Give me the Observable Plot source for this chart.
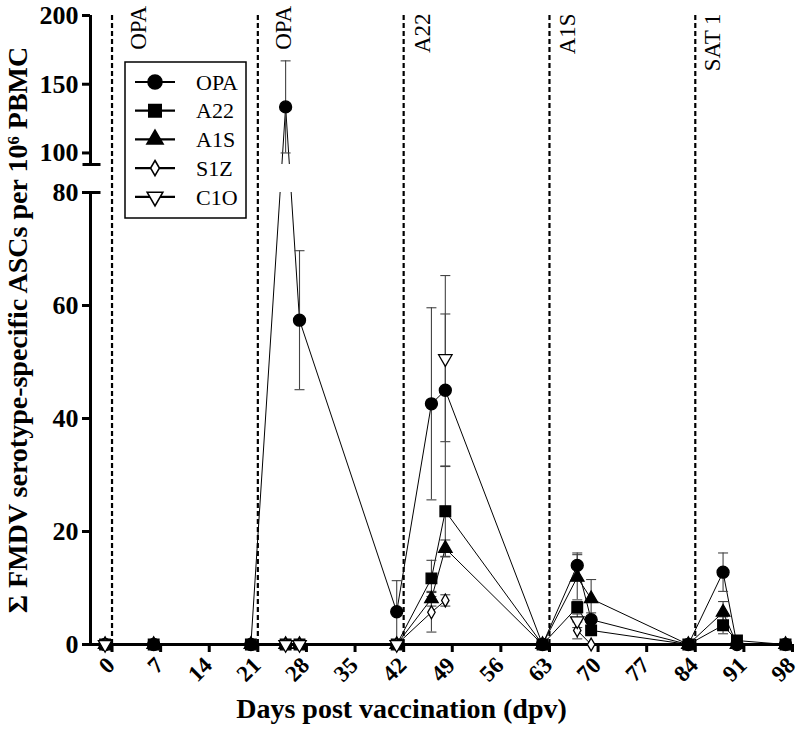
<!DOCTYPE html>
<html>
<head>
<meta charset="utf-8">
<script src="https://cdn.jsdelivr.net/npm/d3@7"></script>
<script src="https://cdn.jsdelivr.net/npm/@observablehq/plot@0.6"></script>
<style>
  html, body { margin: 0; padding: 0; background: white; }
  #chart { width: 800px; height: 743px; }
</style>
</head>
<body>
<div id="chart"></div>
<script>
// ---- data ----
const days = [-1, 6, 20, 25, 27, 41, 46, 48, 62, 67, 69, 83, 88, 90, 97];
const seriesNames = ["OPA", "A22", "A1S", "S1Z", "C1O"];
const opa = [0, 0, 0, 133.5, 57.4, 5.8, 42.6, 45.0, 0, 14.0, 4.4, 0, 12.8, 0, 0];
const a22 = [0, 0, 0, 0, 0, 0, 11.7, 23.6, 0, 6.6, 2.5, 0, 3.4, 0.7, 0];
const a1s = [0, 0, 0, 0, 0, 0, 8.1, 17.0, 0, 11.9, 8.1, 0, 5.7, 0, 0];
const s1z = [0, null, null, 0, 0, 0, 5.7, 7.8, null, 2.5, 0, null, null, null, null];
const c1o = [0, null, null, 0, 0, 0, null, 50.6, null, 4.2, null, null, null, null, null];
const opaErr = [null, null, null, 33.5, 12.3, 5.5, 17.0, 13.5, null, 2.2, 1.2, null, 3.4, null, null];
const a22Err = [null, null, null, null, null, null, 3.2, 8.0, null, 1.0, 0.8, null, 1.5, null, null];
const a1sErr = [null, null, null, null, null, null, 1.3, 1.5, null, 4.0, 3.4, null, 1.9, null, null];
const s1zErr = [null, null, null, null, null, null, 3.5, 1.0, null, 1.5, null, null, null, null, null];
const c1oErr = [null, null, null, null, null, null, null, 14.7, null, 1.2, null, null, null, null, null];

const xTicks = [0, 7, 14, 21, 28, 35, 42, 49, 56, 63, 70, 77, 84, 91, 98];
const yTicks = [0, 20, 40, 60, 80, 100, 150, 200];
const yBreak = [80, 91.6];           // axis break: lower segment ends at 80, upper starts at 91.6
const boosterDays = [0, 21, 42, 63, 84];
const boosterLabels = ["OPA", "OPA", "A22", "A1S", "SAT 1"];
const boosterLabelDay = [3.8, 24.7, 44.7, 65.6, 86.5];
const boosterLabelTop = [207, 207, 201.5, 201.5, 201.5];

// ---- symbols ----
const triDown = {
  draw(ctx, size) {
    const s3 = Math.sqrt(3);
    const y = Math.sqrt(size / (s3 * 3));
    ctx.moveTo(0, y * 2);
    ctx.lineTo(-s3 * y, -y);
    ctx.lineTo(s3 * y, -y);
    ctx.closePath();
  }
};
const hline = {
  draw(ctx, size) {
    const r = Math.sqrt(size / Math.PI);
    ctx.moveTo(-r, 0);
    ctx.lineTo(r, 0);
  }
};

const values = [opa, a22, a1s, s1z, c1o];
const errs = [opaErr, a22Err, a1sErr, s1zErr, c1oErr];
const styles = [
  {symbol: d3.symbolCircle, fill: "black", r: 6},
  {symbol: d3.symbolSquare, fill: "black", r: 6},
  {symbol: d3.symbolTriangle, fill: "black", r: 5},
  {symbol: d3.symbolDiamond, fill: "white", r: 3.9},
  {symbol: triDown, fill: "white", r: 5}
];

const rows = [];
const errRows = [];
seriesNames.forEach((name, s) => {
  days.forEach((d, i) => {
    rows.push({series: name, day: d, value: values[s][i]});
    const e = errs[s][i];
    if (e != null && values[s][i] != null) {
      errRows.push({series: name, day: d, lo: Math.max(0, values[s][i] - e), hi: values[s][i] + e});
    }
  });
});

const xDomain = [-3.1, 98];
const serif = "Liberation Serif, Times New Roman, serif";

const marks = [
  Plot.line(rows, {x: "day", y: "value", z: "series", stroke: "black", strokeWidth: 1}),
  Plot.ruleX(errRows, {x: "day", y1: "lo", y2: "hi", stroke: "#444", strokeWidth: 1.1}),
  Plot.dot(errRows, {x: "day", y: "lo", symbol: hline, r: 5, stroke: "#444", strokeWidth: 1.1, fill: "none"}),
  Plot.dot(errRows, {x: "day", y: "hi", symbol: hline, r: 5, stroke: "#444", strokeWidth: 1.1, fill: "none"}),
  // white band hiding the data through the axis break
  Plot.rect([yBreak], {x1: xDomain[0], x2: xDomain[1], y1: d => d[0], y2: d => d[1], fill: "white"}),
  Plot.ruleX(boosterDays, {y1: 0, y2: 200, stroke: "black", strokeWidth: 2.2, strokeDasharray: "5,3"}),
  Plot.text(boosterLabels, {
    x: (d, i) => boosterLabelDay[i], y: (d, i) => boosterLabelTop[i], text: d => d,
    rotate: -90, textAnchor: "end", lineAnchor: "middle",
    fontSize: 23, fontFamily: serif, fill: "black"
  }),
  // axes
  Plot.ruleY([0], {stroke: "black", strokeWidth: 3}),
  Plot.ruleX([xDomain[0]], {y1: 0, y2: yBreak[0], stroke: "black", strokeWidth: 3}),
  Plot.ruleX([xDomain[0]], {y1: yBreak[1], y2: 200, stroke: "black", strokeWidth: 3}),
  Plot.dot(yBreak, {x: () => xDomain[0], y: d => d, symbol: hline, r: 9, stroke: "black", strokeWidth: 3, dx: 1}),
  Plot.axisY({ticks: yTicks, tickSize: 8, strokeWidth: 3, tickPadding: 4, label: null,
    tickFormat: d => String(d), fontSize: 26, fontWeight: "bold", fontFamily: serif}),
  Plot.axisX({ticks: xTicks, tickSize: 8, strokeWidth: 3, label: null, tickFormat: () => ""}),
  Plot.text(xTicks, {x: d => d, frameAnchor: "bottom", dy: 17, dx: -1, text: d => String(d),
    rotate: -45, textAnchor: "end", lineAnchor: "middle",
    fontSize: 23, fontWeight: "bold", fontFamily: serif, fill: "black"}),
  Plot.text(["Days post vaccination (dpv)"], {frameAnchor: "bottom", dy: 73, dx: -40, text: d => d,
    fontSize: 28, fontWeight: "bold", fontFamily: serif, fill: "black"}),
  Plot.text(["Σ FMDV serotype-specific ASCs per 10⁶ PBMC"], {frameAnchor: "left", dx: -72, text: d => d,
    rotate: -90, textAnchor: "middle", lineAnchor: "middle",
    fontSize: 28, fontWeight: "bold", fontFamily: serif, fill: "black"})
];

// markers, one mark per series (open symbols drawn last)
seriesNames.forEach((name, s) => {
  const st = styles[s];
  marks.push(Plot.dot(rows.filter(r => r.series === name && r.value != null), {
    x: "day", y: "value", symbol: st.symbol, r: st.r,
    fill: st.fill, stroke: "black", strokeWidth: 1.3
  }));
});

const svg = Plot.plot({
  width: 800,
  height: 743,
  marginLeft: 90,
  marginRight: 8,
  marginTop: 15,
  marginBottom: 99,
  style: {fontFamily: serif, background: "white", overflow: "visible"},
  x: {type: "linear", domain: xDomain},
  y: {type: "linear", domain: [0, yBreak[0], yBreak[1], 200], range: [644, 192, 164, 15]},
  marks
});

// ---- legend box (inside the plot area, upper left) ----
const lg = d3.select(svg).append("g").attr("class", "legend");
lg.append("rect").attr("x", 125).attr("y", 62).attr("width", 121).attr("height", 156)
  .attr("fill", "white").attr("stroke", "black").attr("stroke-width", 1.5);
const legendSizes = [7, 7, 6, 4.6, 5.8];
seriesNames.forEach((name, s) => {
  const yy = 82 + s * 28.7;
  lg.append("line").attr("x1", 135).attr("x2", 175).attr("y1", yy).attr("y2", yy)
    .attr("stroke", "black").attr("stroke-width", 2.2);
  const r = legendSizes[s];
  lg.append("path")
    .attr("transform", `translate(155,${yy})`)
    .attr("d", d3.symbol(styles[s].symbol, Math.PI * r * r)())
    .attr("fill", styles[s].fill).attr("stroke", "black").attr("stroke-width", 1.6);
  lg.append("text").attr("x", 196).attr("y", yy).attr("dy", "0.35em")
    .attr("text-anchor", "start")
    .attr("font-family", serif).attr("font-size", 22).attr("fill", "black").text(name);
});

document.getElementById("chart").appendChild(svg);
</script>
</body>
</html>
